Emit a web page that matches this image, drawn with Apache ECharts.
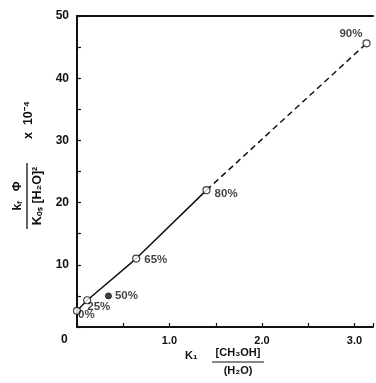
<!DOCTYPE html>
<html><head><meta charset="utf-8">
<script src="https://cdn.jsdelivr.net/npm/echarts@6/dist/echarts.min.js"></script>
<style>html,body{margin:0;padding:0;background:#fff}#c{width:376px;height:383px}</style>
</head><body><div id="c"></div>
<script>
// Data
const pointLabels = ['0%', '25%', '50%', '65%', '80%', '90%'];
const xValues = [0.0, 0.11, 0.34, 0.64, 1.40, 3.13];
const yValues = [2.6, 4.3, 5.0, 11.0, 22.0, 45.6];
const filledPoint = [false, false, true, false, false, false];
const solidLinePoints = [0, 1, 3, 4];   // indices joined by the solid line
const dashedLinePoints = [4, 5];        // indices joined by the dashed line
const xTickLabels = ['', '1.0', '2.0', '3.0'];

// Label placement (style only)
const labelPlace = [
  {position: 'right', offset: [-6, 4]},
  {position: 'right', offset: [-7, 7]},
  {position: 'right', offset: [0, 0]},
  {position: 'right', offset: [1, 1]},
  {position: 'right', offset: [1, 4]},
  {position: 'left', offset: [3, -10]}
];

const INK = '#111';
const FONT = 'Liberation Sans';
const chart = echarts.init(document.getElementById('c'), null, {renderer: 'canvas'});

const pts = xValues.map((x, i) => [x, yValues[i]]);
const scatterData = pts.map((p, i) => ({
  value: p,
  symbolSize: filledPoint[i] ? 6 : 7,
  itemStyle: filledPoint[i] ? {color: INK, borderColor: INK, borderWidth: 1}
                            : {color: '#fff', borderColor: INK, borderWidth: 1.2},
  label: {show: true, formatter: pointLabels[i], position: labelPlace[i].position,
          offset: labelPlace[i].offset, distance: 3,
          fontFamily: FONT, fontWeight: 'bold', fontSize: 11.5, color: INK}
}));

chart.setOption({
  animation: false,
  backgroundColor: '#fff',
  grid: {left: 77, right: 0, top: 16, bottom: 56, containLabel: false},
  xAxis: [{
    type: 'value', min: 0, max: 3.2, interval: 1,
    axisLine: {show: true, lineStyle: {color: INK, width: 2}},
    axisTick: {show: true, inside: true, length: 4, lineStyle: {color: INK, width: 1.2}},
    minorTick: {show: true, splitNumber: 2, length: 4, lineStyle: {color: INK, width: 1.2}},
    splitLine: {show: false}, minorSplitLine: {show: false},
    axisLabel: {margin: 8, fontFamily: FONT, fontWeight: 'bold', fontSize: 11, color: INK,
      formatter: v => (Number.isInteger(v) && v >= 0 && v <= 3) ? xTickLabels[v] : ''}
  }, {
    type: 'value', position: 'top', min: 0, max: 3.2,
    axisLine: {show: true, lineStyle: {color: INK, width: 2}},
    axisTick: {show: false}, axisLabel: {show: false}, splitLine: {show: false}
  }],
  yAxis: {
    type: 'value', min: 0, max: 50, interval: 10,
    axisLine: {show: true, lineStyle: {color: INK, width: 2}},
    axisTick: {show: true, inside: true, length: 4, lineStyle: {color: INK, width: 1.2}},
    minorTick: {show: true, splitNumber: 2, length: 4, lineStyle: {color: INK, width: 1.2}},
    splitLine: {show: false}, minorSplitLine: {show: false},
    axisLabel: {margin: 8, fontFamily: FONT, fontWeight: 'bold', fontSize: 12, color: INK,
      formatter: v => v === 0 ? '' : String(v)}
  },
  series: [
    {type: 'line', data: solidLinePoints.map(i => pts[i]), symbol: 'none', z: 2,
     lineStyle: {color: INK, width: 1.5}},
    {type: 'line', data: dashedLinePoints.map(i => pts[i]), symbol: 'none', z: 2,
     lineStyle: {color: INK, width: 1.5, type: [6, 4]}},
    {type: 'scatter', data: scatterData, z: 5}
  ],
  graphic: [
    {type: 'text', left: 61, top: 334, style: {text: '0', fontFamily: FONT, fontWeight: 'bold', fontSize: 12, fill: INK}},
    // Y axis title (rotated fraction)
    {type: 'group', x: 27, y: 196, rotation: Math.PI / 2, children: [
      {type: 'text', x: 0, y: -10, style: {
        text: '{m|k}{s|f}{m|   Φ}', align: 'center', verticalAlign: 'middle', fill: INK,
        rich: {m: {fontFamily: FONT, fontWeight: 'bold', fontSize: 12, lineHeight: 14, verticalAlign: 'bottom'},
               s: {fontFamily: FONT, fontWeight: 'bold', fontSize: 8, lineHeight: 9, verticalAlign: 'bottom'}}}},
      {type: 'line', shape: {x1: -33, y1: 0, x2: 33, y2: 0}, style: {stroke: INK, lineWidth: 1.3}},
      {type: 'text', x: 0, y: 11, style: {
        text: 'Kₒₛ [H₂O]²', align: 'center', verticalAlign: 'middle', fill: INK,
        fontFamily: FONT, fontWeight: 'bold', fontSize: 12.5}}
    ]},
    {type: 'text', x: 29, y: 120, rotation: Math.PI / 2, style: {
      text: 'x  10⁻⁴', align: 'center', verticalAlign: 'middle', fill: INK,
      fontFamily: FONT, fontWeight: 'bold', fontSize: 12.5}},
    // X axis title
    {type: 'text', x: 185, y: 356, style: {
      text: 'K₁', align: 'left', verticalAlign: 'middle', fill: INK,
      fontFamily: FONT, fontWeight: 'bold', fontSize: 11}},
    {type: 'text', x: 238, y: 358, style: {
      text: '[CH₃OH]', align: 'center', verticalAlign: 'bottom', fill: INK,
      fontFamily: FONT, fontWeight: 'bold', fontSize: 11}},
    {type: 'line', shape: {x1: 212, y1: 362, x2: 264, y2: 362}, style: {stroke: INK, lineWidth: 1}},
    {type: 'text', x: 238, y: 365, style: {
      text: '(H₂O)', align: 'center', verticalAlign: 'top', fill: INK,
      fontFamily: FONT, fontWeight: 'bold', fontSize: 11}}
  ]
});
</script>
</body></html>
